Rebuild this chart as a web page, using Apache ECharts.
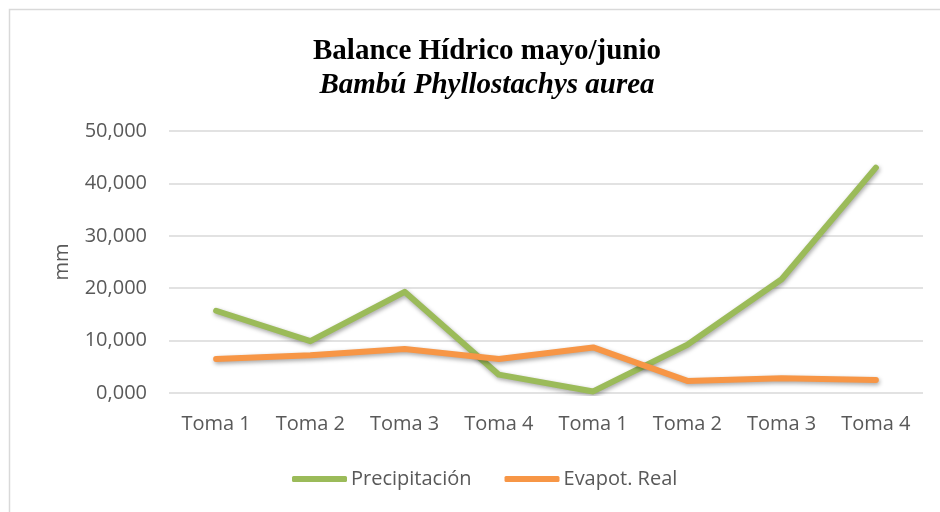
<!DOCTYPE html>
<html><head><meta charset="utf-8">
<script src="https://cdn.jsdelivr.net/npm/echarts@6/dist/echarts.min.js"></script>
<style>html,body{margin:0;padding:0;background:#fff}#c{width:940px;height:512px}</style>
</head><body><div id="c"></div>
<script>
const categories = ['Toma 1','Toma 2','Toma 3','Toma 4','Toma 1','Toma 2','Toma 3','Toma 4'];
const precipitacion = [15.7, 9.9, 19.3, 3.5, 0.3, 9.2, 21.7, 43.0];
const evapotReal = [6.5, 7.2, 8.4, 6.5, 8.7, 2.3, 2.8, 2.5];
const seriesNames = ['Precipitación', 'Evapot. Real'];
const titleLines = ['Balance Hídrico mayo/junio', 'Bambú Phyllostachys aurea'];
const yTicks = {min: 0, max: 50, interval: 10};

const chart = echarts.init(document.getElementById('c'));
const shadow = {shadowColor:'rgba(0,0,0,0.35)', shadowBlur:4, shadowOffsetX:1, shadowOffsetY:2};
const labelFont = {fontFamily:'Open Sans', fontSize:20, color:'#595959'};
chart.setOption({
  animation:false,
  graphic:[{type:'rect', shape:{x:9.5,y:9.5,width:1000,height:1000}, style:{fill:'none', stroke:'#d9d9d9', lineWidth:1.5}, silent:true}],
  title:[
    {text:titleLines[0], left:482, top:32, textAlign:'center',
     textStyle:{fontFamily:'Liberation Serif', fontWeight:'bold', fontSize:29, color:'#000'}},
    {text:titleLines[1], left:482, top:66, textAlign:'center',
     textStyle:{fontFamily:'Liberation Serif', fontWeight:'bold', fontStyle:'italic', fontSize:29, color:'#000'}}
  ],
  legend:{
    data:seriesNames, top:464, left:287, itemWidth:55, itemHeight:6, itemGap:33,
    icon:'roundRect',
    textStyle:Object.assign({padding:[0,0,0,-1]}, labelFont)
  },
  grid:{left:169, right:17, top:131, bottom:119},
  xAxis:{
    type:'category', data:categories, boundaryGap:true,
    axisLine:{show:false}, axisTick:{show:false},
    axisLabel:Object.assign({margin:21}, labelFont)
  },
  yAxis:{
    type:'value', min:yTicks.min, max:yTicks.max, interval:yTicks.interval,
    name:'mm', nameLocation:'middle', nameGap:97, nameRotate:90,
    nameTextStyle:labelFont,
    axisLine:{show:false}, axisTick:{show:false},
    splitLine:{lineStyle:{color:'#d9d9d9', width:1.5}},
    axisLabel:Object.assign({margin:22, formatter:v=>v.toFixed(0)+',000'}, labelFont)
  },
  series:[
    {name:seriesNames[0], type:'line', data:precipitacion, showSymbol:false, symbol:'none',
     itemStyle:{color:'#9BBB59'}, lineStyle:Object.assign({color:'#9BBB59', width:6, cap:'round', join:'round'}, shadow)},
    {name:seriesNames[1], type:'line', data:evapotReal, showSymbol:false, symbol:'none',
     itemStyle:{color:'#F79646'}, lineStyle:Object.assign({color:'#F79646', width:6, cap:'round', join:'round'}, shadow)}
  ]
});
</script></body></html>
